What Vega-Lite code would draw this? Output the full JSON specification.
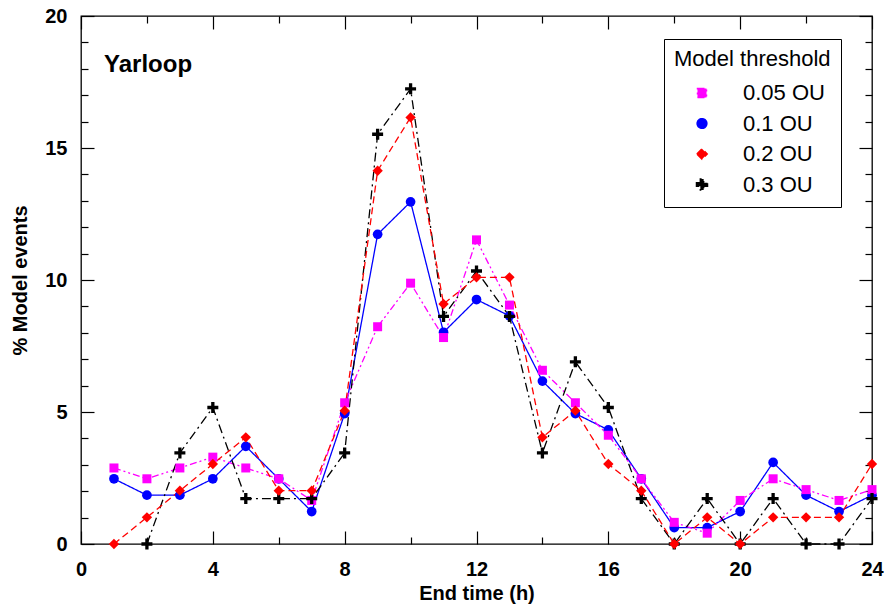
{
  "$schema": "https://vega.github.io/schema/vega-lite/v6.json",
  "width": 791,
  "height": 528,
  "autosize": {"type": "none"},
  "padding": {"left": 81, "top": 16, "right": 14, "bottom": 64},
  "config": {
    "font": "Liberation Sans",
    "view": {"stroke": "black", "strokeWidth": 1.3},
    "axis": {"grid": false, "domain": false, "tickColor": "black", "tickWidth": 1.2, "labelColor": "black", "titleColor": "black", "labelFlush": false, "labelOverlap": false, "labelBound": false}
  },
  "data": {
    "values": [
      {"s": "0.1 OU", "h": 1, "v": 2.47}, {"s": "0.1 OU", "h": 2, "v": 1.85}, {"s": "0.1 OU", "h": 3, "v": 1.85}, {"s": "0.1 OU", "h": 4, "v": 2.47},
      {"s": "0.1 OU", "h": 5, "v": 3.70}, {"s": "0.1 OU", "h": 6, "v": 2.47}, {"s": "0.1 OU", "h": 7, "v": 1.23}, {"s": "0.1 OU", "h": 8, "v": 4.94},
      {"s": "0.1 OU", "h": 9, "v": 11.73}, {"s": "0.1 OU", "h": 10, "v": 12.96}, {"s": "0.1 OU", "h": 11, "v": 8.02}, {"s": "0.1 OU", "h": 12, "v": 9.26},
      {"s": "0.1 OU", "h": 13, "v": 8.64}, {"s": "0.1 OU", "h": 14, "v": 6.17}, {"s": "0.1 OU", "h": 15, "v": 4.94}, {"s": "0.1 OU", "h": 16, "v": 4.32},
      {"s": "0.1 OU", "h": 17, "v": 2.47}, {"s": "0.1 OU", "h": 18, "v": 0.62}, {"s": "0.1 OU", "h": 19, "v": 0.62}, {"s": "0.1 OU", "h": 20, "v": 1.23},
      {"s": "0.1 OU", "h": 21, "v": 3.09}, {"s": "0.1 OU", "h": 22, "v": 1.85}, {"s": "0.1 OU", "h": 23, "v": 1.23}, {"s": "0.1 OU", "h": 24, "v": 1.85},

      {"s": "0.05 OU", "h": 1, "v": 2.88}, {"s": "0.05 OU", "h": 2, "v": 2.47}, {"s": "0.05 OU", "h": 3, "v": 2.88}, {"s": "0.05 OU", "h": 4, "v": 3.29},
      {"s": "0.05 OU", "h": 5, "v": 2.88}, {"s": "0.05 OU", "h": 6, "v": 2.47}, {"s": "0.05 OU", "h": 7, "v": 1.65}, {"s": "0.05 OU", "h": 8, "v": 5.35},
      {"s": "0.05 OU", "h": 9, "v": 8.23}, {"s": "0.05 OU", "h": 10, "v": 9.88}, {"s": "0.05 OU", "h": 11, "v": 7.82}, {"s": "0.05 OU", "h": 12, "v": 11.52},
      {"s": "0.05 OU", "h": 13, "v": 9.05}, {"s": "0.05 OU", "h": 14, "v": 6.58}, {"s": "0.05 OU", "h": 15, "v": 5.35}, {"s": "0.05 OU", "h": 16, "v": 4.12},
      {"s": "0.05 OU", "h": 17, "v": 2.47}, {"s": "0.05 OU", "h": 18, "v": 0.82}, {"s": "0.05 OU", "h": 19, "v": 0.41}, {"s": "0.05 OU", "h": 20, "v": 1.65},
      {"s": "0.05 OU", "h": 21, "v": 2.47}, {"s": "0.05 OU", "h": 22, "v": 2.06}, {"s": "0.05 OU", "h": 23, "v": 1.65}, {"s": "0.05 OU", "h": 24, "v": 2.06},

      {"s": "0.3 OU", "h": 2, "v": 0}, {"s": "0.3 OU", "h": 3, "v": 3.45}, {"s": "0.3 OU", "h": 4, "v": 5.17},
      {"s": "0.3 OU", "h": 5, "v": 1.72}, {"s": "0.3 OU", "h": 6, "v": 1.72}, {"s": "0.3 OU", "h": 7, "v": 1.72}, {"s": "0.3 OU", "h": 8, "v": 3.45},
      {"s": "0.3 OU", "h": 9, "v": 15.52}, {"s": "0.3 OU", "h": 10, "v": 17.24}, {"s": "0.3 OU", "h": 11, "v": 8.62}, {"s": "0.3 OU", "h": 12, "v": 10.34},
      {"s": "0.3 OU", "h": 13, "v": 8.62}, {"s": "0.3 OU", "h": 14, "v": 3.45}, {"s": "0.3 OU", "h": 15, "v": 6.90}, {"s": "0.3 OU", "h": 16, "v": 5.17},
      {"s": "0.3 OU", "h": 17, "v": 1.72}, {"s": "0.3 OU", "h": 18, "v": 0}, {"s": "0.3 OU", "h": 19, "v": 1.72}, {"s": "0.3 OU", "h": 20, "v": 0},
      {"s": "0.3 OU", "h": 21, "v": 1.72}, {"s": "0.3 OU", "h": 22, "v": 0}, {"s": "0.3 OU", "h": 23, "v": 0}, {"s": "0.3 OU", "h": 24, "v": 1.72},

      {"s": "0.2 OU", "h": 1, "v": 0}, {"s": "0.2 OU", "h": 2, "v": 1.01}, {"s": "0.2 OU", "h": 3, "v": 2.02}, {"s": "0.2 OU", "h": 4, "v": 3.03},
      {"s": "0.2 OU", "h": 5, "v": 4.04}, {"s": "0.2 OU", "h": 6, "v": 2.02}, {"s": "0.2 OU", "h": 7, "v": 2.02}, {"s": "0.2 OU", "h": 8, "v": 5.05},
      {"s": "0.2 OU", "h": 9, "v": 14.14}, {"s": "0.2 OU", "h": 10, "v": 16.16}, {"s": "0.2 OU", "h": 11, "v": 9.09}, {"s": "0.2 OU", "h": 12, "v": 10.10},
      {"s": "0.2 OU", "h": 13, "v": 10.10}, {"s": "0.2 OU", "h": 14, "v": 4.04}, {"s": "0.2 OU", "h": 15, "v": 5.05}, {"s": "0.2 OU", "h": 16, "v": 3.03},
      {"s": "0.2 OU", "h": 17, "v": 2.02}, {"s": "0.2 OU", "h": 18, "v": 0}, {"s": "0.2 OU", "h": 19, "v": 1.01}, {"s": "0.2 OU", "h": 20, "v": 0},
      {"s": "0.2 OU", "h": 21, "v": 1.01}, {"s": "0.2 OU", "h": 22, "v": 1.01}, {"s": "0.2 OU", "h": 23, "v": 1.01}, {"s": "0.2 OU", "h": 24, "v": 3.03}
    ]
  },
  "resolve": {"axis": {"x": "independent", "y": "independent"}},
  "layer": [
    {
      "mark": {"type": "line", "strokeWidth": 1.3},
      "encoding": {
        "x": {"field": "h", "type": "quantitative", "scale": {"domain": [0, 24], "nice": false, "zero": false},
          "axis": {"orient": "bottom", "values": [0, 4, 8, 12, 16, 20, 24], "tickSize": -13, "labelPadding": 28, "labelFontSize": 20, "labelFontWeight": "bold",
            "title": "End time (h)", "titleFontSize": 20, "titleFontWeight": "bold", "titleY": 49, "titleBaseline": "middle"}},
        "y": {"field": "v", "type": "quantitative", "scale": {"domain": [0, 20], "nice": false},
          "axis": {"orient": "left", "values": [0, 5, 10, 15, 20], "tickSize": -13, "labelPadding": 27, "labelFontSize": 20, "labelFontWeight": "bold",
            "title": "% Model events", "titleFontSize": 20, "titleFontWeight": "bold", "titleX": -61, "titleBaseline": "middle", "titleAngle": -90}},
        "color": {"field": "s", "type": "nominal",
          "scale": {"domain": ["0.05 OU", "0.1 OU", "0.2 OU", "0.3 OU"], "range": ["#ff00ff", "#0000ff", "#ff0000", "#000000"]},
          "legend": {
            "orient": "none", "legendX": 583, "legendY": 23, "title": "Model threshold",
            "titleFontSize": 22, "titleFontWeight": "normal", "titleColor": "black",
            "labelFontSize": 22, "labelColor": "black",
            "strokeColor": "black", "fillColor": "white", "padding": 10,
            "symbolOpacity": 1, "symbolSize": 110,
            "clipHeight": 24, "rowPadding": 6.5, "titlePadding": 10, "labelOffset": 30, "symbolOffset": 17
          }},
        "strokeDash": {"field": "s", "type": "nominal", "legend": null,
          "scale": {"domain": ["0.05 OU", "0.1 OU", "0.2 OU", "0.3 OU"], "range": [[7, 3, 2, 3, 2, 3], [1, 0], [7, 4], [9, 4, 2, 4]]}}
      }
    },
    {
      "mark": {"type": "point", "filled": true, "opacity": 1},
      "encoding": {
        "x": {"field": "h", "type": "quantitative",
          "axis": {"orient": "top", "values": [0, 4, 8, 12, 16, 20, 24], "tickSize": -13, "labels": false, "title": null}},
        "y": {"field": "v", "type": "quantitative",
          "axis": {"orient": "right", "values": [0, 5, 10, 15, 20], "tickSize": -13, "labels": false, "title": null}},
        "color": {"field": "s", "type": "nominal",
          "legend": {
            "orient": "none", "legendX": 583, "legendY": 23, "title": "Model threshold",
            "titleFontSize": 22, "titleFontWeight": "normal", "titleColor": "black",
            "labelFontSize": 22, "labelColor": "black",
            "strokeColor": "black", "fillColor": "white", "padding": 10,
            "symbolOpacity": 1, "symbolSize": 110,
            "clipHeight": 24, "rowPadding": 6.5, "titlePadding": 10, "labelOffset": 30, "symbolOffset": 17
          }},
        "shape": {"field": "s", "type": "nominal", "legend": null,
          "scale": {"domain": ["0.05 OU", "0.1 OU", "0.2 OU", "0.3 OU"], "range": ["square", "circle", "diamond", "M-1,-0.3H-0.3V-1H0.3V-0.3H1V0.3H0.3V1H-0.3V0.3H-1Z"]}},
        "size": {"field": "s", "type": "nominal", "legend": null,
          "scale": {"domain": ["0.05 OU", "0.1 OU", "0.2 OU", "0.3 OU"], "range": [81, 121, 121, 144]}}
      }
    },
    {
      "mark": {"type": "point", "opacity": 0},
      "encoding": {
        "x": {"field": "h", "type": "quantitative",
          "axis": {"orient": "bottom", "values": [2, 6, 10, 14, 18, 22], "tickSize": -7, "labels": false, "title": null}},
        "y": {"field": "v", "type": "quantitative",
          "axis": {"orient": "left", "values": [1, 2, 3, 4, 6, 7, 8, 9, 11, 12, 13, 14, 16, 17, 18, 19], "tickSize": -7, "labels": false, "title": null}}
      }
    },
    {
      "mark": {"type": "point", "opacity": 0},
      "encoding": {
        "x": {"field": "h", "type": "quantitative",
          "axis": {"orient": "top", "values": [2, 6, 10, 14, 18, 22], "tickSize": -7, "labels": false, "title": null}},
        "y": {"field": "v", "type": "quantitative",
          "axis": {"orient": "right", "values": [1, 2, 3, 4, 6, 7, 8, 9, 11, 12, 13, 14, 16, 17, 18, 19], "tickSize": -7, "labels": false, "title": null}}
      }
    },
    {
      "data": {"values": [{"label": "Yarloop"}]},
      "mark": {"type": "text", "align": "left", "baseline": "alphabetic", "fontSize": 24, "fontWeight": "bold", "color": "black"},
      "encoding": {
        "x": {"datum": 0.7, "type": "quantitative", "axis": null},
        "y": {"datum": 17.88, "type": "quantitative", "axis": null},
        "text": {"field": "label"}
      }
    }
  ]
}
